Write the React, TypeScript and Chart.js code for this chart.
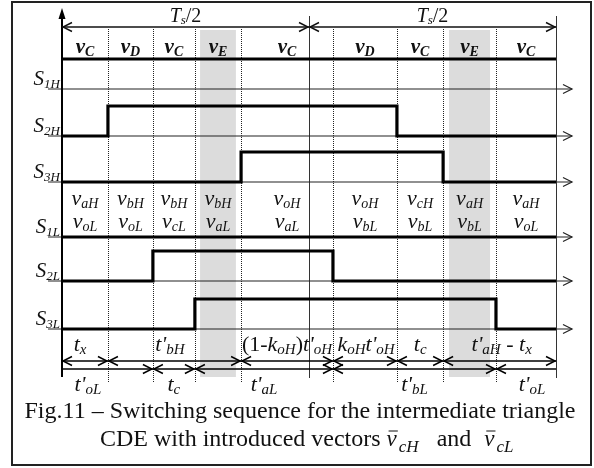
import React, { useEffect, useRef } from 'react';
import { Chart, registerables } from 'chart.js';

Chart.register(...registerables);

// ---------------- data ----------------
// time axis: Ts/2 = 100 time units
const periodEnds = [0, 100, 200];
const periodLabels = ['T_{s}/2', 'T_{s}/2'];
// switching instants (segment boundaries)
const boundaries = [0, 18.6, 36.8, 53.8, 72.5, 109.7, 135.6, 154.3, 175.7, 200];
const vectorLabels = ['v_{C}', 'v_{D}', 'v_{C}', 'v_{E}', 'v_{C}', 'v_{D}', 'v_{C}', 'v_{E}', 'v_{C}'];
const upperVoltages = ['v_{aH}', 'v_{bH}', 'v_{bH}', 'v_{bH}', 'v_{oH}', 'v_{oH}', 'v_{cH}', 'v_{aH}', 'v_{aH}'];
const lowerVoltages = ['v_{oL}', 'v_{oL}', 'v_{cL}', 'v_{aL}', 'v_{aL}', 'v_{bL}', 'v_{bL}', 'v_{bL}', 'v_{oL}'];
const shadeStart = [55.9, 156.7];
const shadeEnd = [70.4, 173.3];
const signalNames = ['S_{1H}', 'S_{2H}', 'S_{3H}', 'S_{1L}', 'S_{2L}', 'S_{3L}'];
const s1H = [1, 1, 1, 1, 1, 1, 1, 1, 1];
const s2H = [0, 1, 1, 1, 1, 1, 0, 0, 0];
const s3H = [0, 0, 0, 0, 1, 1, 1, 0, 0];
const s1L = [0, 0, 0, 0, 0, 0, 0, 0, 0];
const s2L = [0, 0, 1, 1, 1, 0, 0, 0, 0];
const s3L = [0, 0, 0, 1, 1, 1, 1, 1, 0];
const signals = [s1H, s2H, s3H, s1L, s2L, s3L];
const upperMarks = [0, 18.6, 72.5, 109.7, 135.6, 154.3, 200];
const upperLabels = ['t_{x}', "t'_{bH}", "(1-k_{oH})t'_{oH}", "k_{oH}t'_{oH}", 't_{c}', "t'_{aH} - t_{x}"];
const upperLabelAt = [7.3, 43.7, 91.1, 123.1, 145.0, 178.0];
const lowerMarks = [0, 36.8, 53.8, 109.7, 175.7, 200];
const lowerLabels = ["t'_{oL}", 't_{c}', "t'_{aL}", "t'_{bL}", "t'_{oL}"];
const lowerLabelAt = [10.5, 45.3, 81.8, 142.7, 190.3];
const captionLine1 = 'Fig.11 \u2013 Switching sequence for the intermediate triangle';
const captionLine2 = 'CDE with introduced vectors';
const captionVec1 = 'cH';
const captionAnd = 'and';
const captionVec2 = 'cL';

// ---------------- layout ----------------
const W = 594;
const H = 468;
const PLOT_LEFT = 62;
const PLOT_RIGHT = 556;
const LANE = [89, 136, 182, 237, 281, 329];
const AMP = 30;
const SERIF = '"Liberation Serif", "Times New Roman", serif';
const INK = '#111';

function font(size: number, italic: boolean, bold = false) {
  return `${italic ? 'italic ' : ''}${bold ? 'bold ' : ''}${size}px ${SERIF}`;
}

type Piece = { text: string; font: string; dy: number };

function pieces(str: string, main: number, sub: number, drop: number, bold = false): Piece[] {
  const out: Piece[] = [];
  const pushMain = (s: string) => {
    if (!s) return;
    const toks = s.match(/[A-Za-z']+|[^A-Za-z']+/g) || [];
    toks.forEach((t) => out.push({ text: t, font: font(main, /[A-Za-z']/.test(t), bold), dy: 0 }));
  };
  const re = /_\{([^}]*)\}/g;
  let last = 0;
  let m: RegExpExecArray | null;
  while ((m = re.exec(str))) {
    pushMain(str.slice(last, m.index));
    out.push({ text: m[1], font: font(sub, true, bold), dy: drop });
    last = re.lastIndex;
  }
  pushMain(str.slice(last));
  return out;
}

function drawRich(
  ctx: CanvasRenderingContext2D,
  str: string,
  x: number,
  y: number,
  main: number,
  sub: number,
  drop: number,
  align: 'center' | 'left' | 'right' = 'center',
  bold = false
) {
  const ps = pieces(str, main, sub, drop, bold);
  let total = 0;
  const widths = ps.map((p) => {
    ctx.font = p.font;
    const w = ctx.measureText(p.text).width;
    total += w;
    return w;
  });
  let cx = align === 'center' ? x - total / 2 : align === 'right' ? x - total : x;
  ctx.textAlign = 'left';
  ctx.textBaseline = 'alphabetic';
  ps.forEach((p, i) => {
    ctx.font = p.font;
    ctx.fillText(p.text, cx, y + p.dy);
    cx += widths[i];
  });
  return total;
}

function seg(ctx: CanvasRenderingContext2D, x1: number, y1: number, x2: number, y2: number) {
  ctx.beginPath();
  ctx.moveTo(x1, y1);
  ctx.lineTo(x2, y2);
  ctx.stroke();
}

function chevron(ctx: CanvasRenderingContext2D, x: number, y: number, dir: number, L = 9, Wd = 4.5) {
  ctx.beginPath();
  ctx.moveTo(x - dir * L, y - Wd);
  ctx.lineTo(x, y);
  ctx.lineTo(x - dir * L, y + Wd);
  ctx.stroke();
}

const diagramPlugin = {
  id: 'diagram',
  beforeDatasetsDraw(chart: any) {
    const ctx: CanvasRenderingContext2D = chart.ctx;
    const X = (t: number) => chart.scales.x.getPixelForValue(t);
    ctx.save();
    // shaded zero-vector regions
    ctx.fillStyle = '#dcdcdc';
    shadeStart.forEach((s, i) => {
      const a = X(s);
      const b = X(shadeEnd[i]);
      ctx.fillRect(a, 30, b - a, 347);
    });
    // dotted switching instants
    ctx.strokeStyle = '#222';
    ctx.lineWidth = 1;
    ctx.setLineDash([1, 1]);
    boundaries.slice(1, -1).forEach((t) => {
      const px = Math.round(X(t)) + 0.5;
      seg(ctx, px, 29, px, 383);
    });
    ctx.setLineDash([]);
    // period boundary lines
    ctx.strokeStyle = '#333';
    ctx.lineWidth = 1;
    periodEnds.slice(1).forEach((t) => {
      const px = Math.round(X(t)) + 0.5;
      seg(ctx, px, 16, px, 378);
    });
    // lane baselines with arrows
    ctx.strokeStyle = '#222';
    ctx.lineWidth = 1.2;
    LANE.forEach((yb) => {
      seg(ctx, X(0) - 14, yb, X(200) + 16, yb);
      chevron(ctx, X(200) + 16, yb, 1);
    });
    // vertical axis with arrow
    ctx.strokeStyle = '#000';
    ctx.lineWidth = 2;
    seg(ctx, X(0), 16, X(0), 377);
    ctx.fillStyle = '#000';
    ctx.beginPath();
    ctx.moveTo(X(0), 8);
    ctx.lineTo(X(0) - 3.5, 19);
    ctx.lineTo(X(0) + 3.5, 19);
    ctx.closePath();
    ctx.fill();
    // Ts/2 dimension arrows
    ctx.lineWidth = 1.4;
    ctx.strokeStyle = '#111';
    for (let i = 0; i < periodEnds.length - 1; i++) {
      const a = X(periodEnds[i]);
      const b = X(periodEnds[i + 1]);
      seg(ctx, a, 27, b, 27);
      chevron(ctx, a + 1, 27, -1);
      chevron(ctx, b - 1, 27, 1);
    }
    ctx.restore();
  },
  afterDatasetsDraw(chart: any) {
    const ctx: CanvasRenderingContext2D = chart.ctx;
    const X = (t: number) => chart.scales.x.getPixelForValue(t);
    ctx.save();
    ctx.fillStyle = INK;
    // Ts/2 labels
    for (let i = 0; i < periodLabels.length; i++) {
      const c = (X(periodEnds[i]) + X(periodEnds[i + 1])) / 2;
      drawRich(ctx, periodLabels[i], c, 22, 20, 13, 2);
    }
    // vector labels + voltage labels
    for (let i = 0; i < vectorLabels.length; i++) {
      const c = (X(boundaries[i]) + X(boundaries[i + 1])) / 2;
      drawRich(ctx, vectorLabels[i], c, 53, 21, 14, 2.5, 'center', true);
      drawRich(ctx, upperVoltages[i], c, 205, 22, 14, 2.5);
      drawRich(ctx, lowerVoltages[i], c, 228, 22, 14, 2.5);
    }
    // signal names
    signalNames.forEach((n, k) => {
      drawRich(ctx, n, X(0) - 2, LANE[k] - 4, 21, 13, 2.5, 'right');
    });
    // bottom dimension rows
    ctx.strokeStyle = '#000';
    ctx.lineWidth = 1.5;
    const row = (marks: number[], yy: number, outerHeads: boolean) => {
      const n = marks.length - 1;
      for (let i = 0; i < n; i++) {
        const a = X(marks[i]);
        const b = X(marks[i + 1]);
        seg(ctx, a, yy, b, yy);
        if (i > 0 || outerHeads) chevron(ctx, a + 1, yy, -1);
        if (i < n - 1 || outerHeads) chevron(ctx, b - 1, yy, 1);
      }
    };
    row(upperMarks, 361, true);
    row(lowerMarks, 369, false);
    upperLabels.forEach((l, i) => drawRich(ctx, l, X(upperLabelAt[i]), 351, 22, 15, 3));
    lowerLabels.forEach((l, i) => drawRich(ctx, l, X(lowerLabelAt[i]), 391, 22, 15, 3));
    // caption
    ctx.fillStyle = '#111';
    ctx.font = font(24, false);
    ctx.textAlign = 'center';
    ctx.textBaseline = 'alphabetic';
    ctx.fillText(captionLine1, 300, 418);
    // line 2 (equation objects carry extra padding)
    ctx.textAlign = 'left';
    const base2 = 446;
    let cx = 100;
    ctx.font = font(24, false);
    ctx.fillText(captionLine2, cx, base2);
    cx += ctx.measureText(captionLine2).width + 6;
    const vec = (subTxt: string) => {
      ctx.font = font(23, true);
      const wv = ctx.measureText('v').width;
      ctx.fillText('v', cx, base2);
      ctx.strokeStyle = '#111';
      ctx.lineWidth = 1;
      seg(ctx, cx + 2, base2 - 15, cx + wv + 1, base2 - 15);
      cx += wv + 2;
      ctx.font = font(17, true);
      ctx.fillText(subTxt, cx, base2 + 6);
      cx += ctx.measureText(subTxt).width;
    };
    vec(captionVec1);
    cx += 18;
    ctx.font = font(24, false);
    ctx.fillText(captionAnd, cx, base2);
    cx += ctx.measureText(captionAnd).width + 13;
    vec(captionVec2);
    // frame
    ctx.strokeStyle = '#222';
    ctx.lineWidth = 2;
    ctx.strokeRect(12, 2, 579, 463);
    ctx.restore();
  },
};

export default function App() {
  const ref = useRef<HTMLCanvasElement | null>(null);
  useEffect(() => {
    if (!ref.current) return;
    const chart = new Chart(ref.current, {
      type: 'line',
      data: {
        datasets: signals.map((st, k) => ({
          label: signalNames[k],
          data: [
            ...st.map((s, i) => ({ x: boundaries[i], y: LANE[k] - AMP * s })),
            { x: boundaries[boundaries.length - 1], y: LANE[k] - AMP * st[st.length - 1] },
          ],
          stepped: 'before' as const,
          borderColor: '#000',
          borderWidth: 3.2,
          borderCapStyle: 'butt' as const,
          borderJoinStyle: 'miter' as const,
          pointRadius: 0,
          fill: false,
          clip: false as any,
        })),
      },
      options: {
        animation: false,
        responsive: false,
        events: [],
        layout: { padding: { left: PLOT_LEFT, right: W - PLOT_RIGHT, top: 0, bottom: 0 } },
        scales: {
          x: { type: 'linear', min: 0, max: 200, display: false },
          y: { type: 'linear', min: 0, max: H, reverse: true, display: false },
        },
        plugins: { legend: { display: false }, tooltip: { enabled: false } },
      },
      plugins: [diagramPlugin],
    });
    return () => chart.destroy();
  }, []);
  return (
    <div style={{ position: 'absolute', left: 0, top: 0, width: W, height: H, background: '#fff' }}>
      <canvas ref={ref} width={W} height={H} />
    </div>
  );
}
